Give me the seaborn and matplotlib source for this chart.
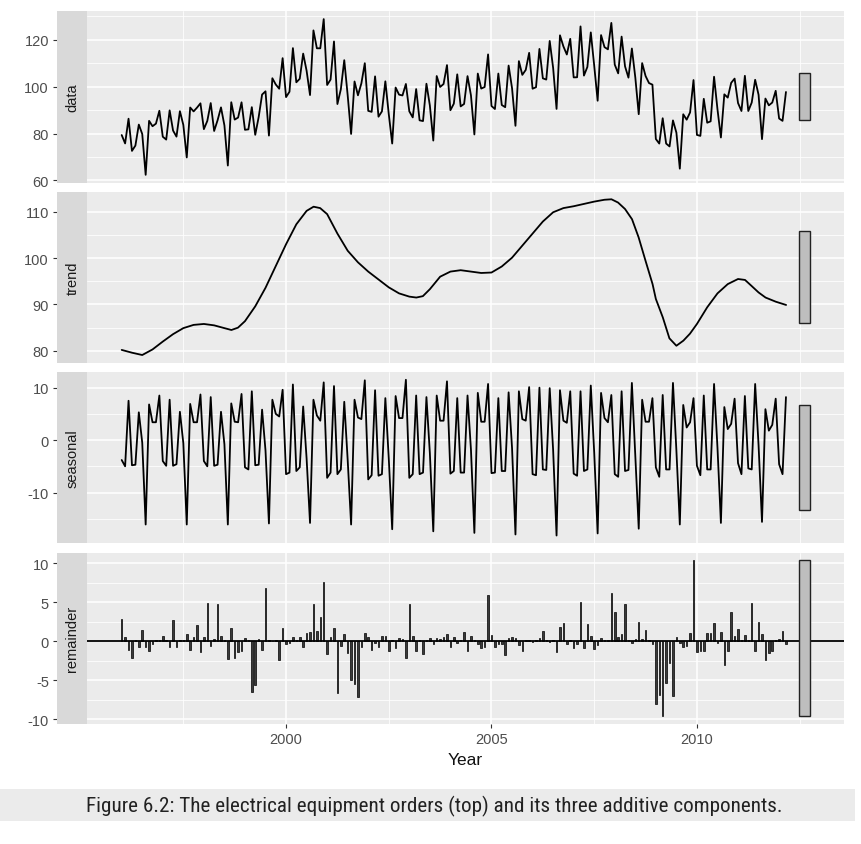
import numpy as np
import matplotlib
matplotlib.use("Agg")
import matplotlib.pyplot as plt
from matplotlib.patches import Rectangle
from matplotlib import font_manager
import seaborn as sns

# ---------------- data ----------------
start_year = 1996  # monthly series, Jan 1996 .. Mar 2012

data_values = [
    79.35, 75.78, 86.32, 72.60, 74.86, 83.81, 79.80, 62.41, 85.41, 83.11, 84.21, 89.70,
    78.64, 77.42, 89.86, 81.27, 78.68, 89.51, 83.67, 69.80, 91.09, 89.43, 91.04, 92.87,
    81.87, 85.36, 92.98, 81.09, 85.64, 91.14, 83.46, 66.37, 93.34, 85.93, 86.81, 93.30,
    81.59, 81.77, 91.24, 79.45, 86.99, 96.60, 97.99, 79.13, 103.56, 100.89, 99.09, 112.12,
    95.52, 97.80, 116.40, 101.83, 103.32, 114.05, 106.77, 96.38, 123.95, 116.31, 116.31, 128.76,
    100.69, 102.99, 119.21, 92.56, 98.86, 111.26, 96.25, 79.81, 102.18, 96.28, 101.38, 109.97,
    89.66, 89.23, 104.36, 87.17, 89.43, 102.25, 88.26, 75.73, 99.60, 96.57, 96.22, 101.12,
    89.45, 86.87, 98.94, 85.62, 85.31, 101.22, 91.93, 77.01, 104.50, 99.83, 101.10, 109.16,
    89.93, 92.73, 105.22, 91.56, 92.60, 104.46, 96.28, 79.61, 105.55, 99.15, 99.81, 113.72,
    91.73, 90.45, 105.56, 92.15, 91.23, 108.95, 99.33, 83.30, 110.85, 104.99, 107.10, 114.38,
    99.09, 99.73, 116.05, 103.51, 102.99, 119.45, 107.98, 90.50, 121.85, 117.12, 113.66, 120.35,
    103.92, 103.97, 125.63, 104.69, 108.36, 123.09, 108.88, 93.98, 121.94, 116.81, 115.87, 127.14,
    109.35, 105.64, 121.30, 108.62, 103.81, 116.23, 103.90, 88.23, 110.0, 104.5, 101.5, 100.82,
    77.66, 75.72, 86.52, 75.73, 74.50, 85.59, 80.37, 65.02, 88.2, 85.9, 89.0, 102.8,
    79.4, 79.0, 94.8, 84.6, 85.2, 104.2, 90.3, 78.3, 96.7, 95.3, 101.6, 103.4,
    93.0, 89.6, 104.6, 89.6, 93.2, 102.9, 96.5, 77.6, 94.9, 92.0, 93.2, 98.2,
    86.4, 85.4, 97.7,
]

trend_time = [
    1996.00, 1996.25, 1996.50, 1996.75, 1997.00, 1997.25, 1997.50, 1997.75,
    1998.00, 1998.25, 1998.50, 1998.67, 1998.83, 1999.00, 1999.25, 1999.50,
    1999.75, 2000.00, 2000.25, 2000.50, 2000.67, 2000.83, 2001.00, 2001.25,
    2001.50, 2001.75, 2002.00, 2002.25, 2002.50, 2002.75, 2003.00, 2003.17,
    2003.33, 2003.50, 2003.75, 2004.00, 2004.25, 2004.50, 2004.75, 2005.00,
    2005.25, 2005.50, 2005.75, 2006.00, 2006.25, 2006.50, 2006.75, 2007.00,
    2007.25, 2007.50, 2007.75, 2007.92, 2008.08, 2008.25, 2008.42, 2008.58,
    2008.75, 2008.92, 2009.00, 2009.17, 2009.33, 2009.50, 2009.67, 2009.83,
    2010.00, 2010.25, 2010.50, 2010.75, 2011.00, 2011.17, 2011.33, 2011.50,
    2011.67, 2011.92, 2012.17,
]
trend_values = [
    80.2, 79.6, 79.1, 80.3, 82.0, 83.6, 84.9, 85.6,
    85.8, 85.5, 84.9, 84.5, 85.0, 86.4, 89.6, 93.6,
    98.3, 103.0, 107.3, 110.2, 111.1, 110.8, 109.5, 105.3,
    101.6, 99.1, 97.1, 95.4, 93.7, 92.4, 91.7, 91.5,
    91.8, 93.3, 96.0, 97.1, 97.4, 97.1, 96.8, 96.9,
    98.2, 100.1, 102.7, 105.3, 107.9, 109.9, 110.8, 111.2,
    111.7, 112.2, 112.6, 112.7, 112.0, 110.6, 108.4, 104.5,
    99.4, 94.4, 91.2, 87.2, 82.7, 81.1, 82.2, 83.7,
    85.8, 89.4, 92.4, 94.4, 95.5, 95.3, 94.0, 92.6,
    91.5, 90.6, 89.9,
]

seasonal_values = [
    -3.8, -5.0, 7.5, -4.8, -4.7, 5.3, -0.5, -16.1, 6.8, 3.4, 3.4, 8.5,
    -4.0, -4.9, 7.7, -4.9, -4.6, 5.4, -0.6, -16.1, 6.9, 3.4, 3.4, 8.7,
    -4.0, -5.0, 8.2, -4.9, -4.7, 5.4, -0.8, -16.1, 7.0, 3.5, 3.4, 8.8,
    -5.2, -5.6, 9.3, -4.8, -4.7, 5.8, -2.0, -15.9, 7.7, 5.0, 4.5, 9.6,
    -6.5, -6.2, 10.6, -5.9, -5.2, 6.4, -3.5, -15.8, 7.7, 4.7, 3.7, 11.0,
    -7.2, -6.2, 10.3, -6.5, -5.6, 7.3, -3.8, -16.1, 7.7, 4.3, 4.0, 11.4,
    -7.5, -6.7, 9.5, -6.8, -6.5, 8.0, -3.5, -17.0, 8.4, 4.2, 4.2, 11.5,
    -7.2, -6.5, 8.5, -6.5, -6.2, 8.2, -2.5, -17.4, 8.5, 3.7, 3.7, 11.2,
    -6.4, -5.9, 8.0, -6.2, -6.2, 8.5, -1.8, -17.7, 9.0, 3.5, 3.5, 10.7,
    -6.3, -6.2, 8.0, -5.9, -5.9, 9.1, -1.5, -18.0, 9.3, 4.0, 3.7, 10.1,
    -6.5, -6.7, 10.0, -5.6, -5.7, 9.9, -1.9, -18.2, 9.5, 3.7, 3.3, 9.3,
    -6.4, -6.8, 9.3, -5.9, -5.6, 10.4, -2.4, -17.8, 9.0, 4.2, 3.4, 8.6,
    -6.5, -7.0, 9.3, -5.9, -5.7, 10.9, -2.8, -16.9, 7.7, 3.5, 3.5, 8.0,
    -5.2, -7.0, 8.6, -5.6, -5.6, 10.9, -2.0, -16.1, 6.7, 2.4, 3.4, 8.0,
    -4.9, -6.7, 8.5, -5.6, -5.6, 10.7, -1.5, -15.8, 6.3, 2.1, 3.1, 7.9,
    -4.4, -6.5, 8.4, -5.4, -5.6, 10.7, -1.0, -15.6, 5.9, 1.8, 2.9, 7.9,
    -4.6, -6.5, 8.2,
]

remainder_values = [
    2.8, 0.6, -1.1, -2.2, 0.1, -0.7, 1.4, -0.8, -1.2, -0.4, 0.1, 0.2,
    0.7, 0.1, -0.7, 2.7, -0.7, 0.1, 0.1, 0.9, -1.1, 0.6, 2.1, -1.4,
    0.5, 4.9, -0.6, 0.3, 4.8, 0.7, 0.1, -2.3, 1.7, -2.2, -1.4, -1.2,
    0.4, 0.1, -6.5, -5.6, 0.3, -1.1, 6.9, 0.2, 0.0, 0.1, -2.4, 1.7,
    -0.3, -0.2, 0.5, 0.1, 0.5, -0.7, 1.1, 1.2, 4.8, 1.3, 3.1, 7.6,
    -1.6, 0.5, 1.7, -6.6, -0.6, 0.9, -1.5, -5.0, -5.5, -7.2, -0.7, 1.1,
    0.5, -1.1, -0.2, -0.8, 0.7, 0.7, -1.3, 0.1, -0.9, 0.4, 0.3, -2.1,
    4.8, 0.7, -1.2, 0.1, -1.6, 0.1, 0.4, -0.3, 0.4, 0.3, 0.5, 0.9,
    -0.8, 0.6, -0.2, 0.2, 1.2, -1.3, 0.7, 0.2, -0.3, -0.9, -0.7, 6.0,
    0.8, -0.7, -0.4, -0.3, -1.7, 0.4, 0.5, 0.4, -0.5, -1.2, 0.1, 0.1,
    -0.1, 0.1, 0.4, 1.3, 0.1, -0.1, 0.1, -1.4, 1.8, 2.4, -0.3, 0.1,
    -0.9, -0.3, 5.0, -0.9, 2.2, 0.7, -1.0, -0.5, 0.4, 0.1, 0.1, 6.2,
    3.7, 0.6, 0.9, 4.8, 0.1, -0.2, 0.3, 2.5, 0.3, 1.5, 0.1, -0.4,
    -8.0, -6.9, -9.6, -5.4, -2.8, -7.0, 0.6, -0.2, -0.7, -0.6, 1.1, 10.4,
    -1.4, -1.2, -1.3, 1.1, 1.0, 2.3, -0.2, 1.2, -3.0, -1.3, 3.7, 0.7,
    1.6, 0.2, 0.8, 0.1, 4.9, -1.3, 2.5, 0.9, -2.4, -1.5, -1.2, 0.1,
    0.3, 1.3, -0.3,
]

panel_names = ["data", "trend", "seasonal", "remainder"]
y_major = [[60, 80, 100, 120], [80, 90, 100, 110], [-10, 0, 10], [-10, -5, 0, 5, 10]]
y_minor = [[70, 90, 110, 130], [85, 95, 105], [-15, -5, 5], [-7.5, -2.5, 2.5, 7.5]]
x_major = [2000, 2005, 2010]
x_minor = [1997.5, 2002.5, 2007.5, 2012.5]
x_label = "Year"
caption = "Figure 6.2: The electrical equipment orders (top) and its three additive components."

# ---------------- styling ----------------
sns.set_theme(style="darkgrid", rc={
    "axes.facecolor": "#EBEBEB",
    "grid.color": "white",
    "figure.facecolor": "white",
})
plt.rcParams["font.family"] = ["Liberation Sans", "DejaVu Sans"]

# pick a condensed face for the caption if one is installed
installed = {f.name for f in font_manager.fontManager.ttflist}
cond_candidates = ["Liberation Sans Narrow", "DejaVu Sans Condensed", "Roboto Condensed",
                   "Open Sans Condensed"]
cap_family = next((c for c in cond_candidates if c in installed), None)
cond_dejavu = any(("DejaVuSansCondensed" in f.fname) for f in font_manager.fontManager.ttflist)

W, H, DPI = 862, 845, 100
fig = plt.figure(figsize=(W / DPI, H / DPI), dpi=DPI)

panel_left, panel_right = 87.3, 844.0
strip_left = 57.5
panel_tops = [12.3, 192.5, 373.0, 553.5]
panel_h = 171.3

n = len(data_values)
t = start_year + np.arange(n) / 12.0
series = [np.array(data_values), np.array(trend_values),
          np.array(seasonal_values), np.array(remainder_values)]

# range bars (same data-unit length on every panel)
t_min, t_max = t.min(), t.max()
span = t_max - t_min
bar_w = span / 64.0
bar_mid = t_max + span / 36.0
bar_h = min(s.max() - s.min() for s in series)
x_right = bar_mid + bar_w / 2
xr = x_right - t_min
xlim = (t_min - 0.05 * xr, x_right + 0.05 * xr)

offset_pt = (panel_left - strip_left) * 72.0 / DPI

for k, name in enumerate(panel_names):
    top = panel_tops[k]
    ax = fig.add_axes([panel_left / W, 1 - (top + panel_h) / H,
                       (panel_right - panel_left) / W, panel_h / H])
    s = series[k]
    if name == "trend":
        sns.lineplot(x=trend_time, y=trend_values, ax=ax, color="black",
                     linewidth=1.3, estimator=None, sort=False)
    elif name == "remainder":
        sns.barplot(x=t, y=s, ax=ax, native_scale=True, orient="x",
                    color="#3A3A3A", saturation=1, edgecolor="black",
                    linewidth=0.5, width=0.45, errorbar=None)
        ax.axhline(0, color="black", linewidth=1.3, zorder=2.5)
    else:
        sns.lineplot(x=t, y=s, ax=ax, color="black", linewidth=1.3,
                     estimator=None, sort=False)

    lo, hi = s.min(), s.max()
    ymid = (lo + hi) / 2
    ax.add_patch(Rectangle((bar_mid - bar_w / 2, ymid - bar_h / 2), bar_w, bar_h,
                           facecolor="#BEBEBE", edgecolor="#222222",
                           linewidth=1.0, zorder=4))
    ylo, yhi = min(lo, ymid - bar_h / 2), max(hi, ymid + bar_h / 2)
    yr = yhi - ylo
    ax.set_ylim(ylo - 0.05 * yr, yhi + 0.05 * yr)
    ax.set_xlim(*xlim)

    ax.set_yticks(y_major[k])
    ax.set_yticklabels([f"{v:g}" for v in y_major[k]])
    ax.set_yticks(y_minor[k], minor=True)
    ax.set_xticks(x_major)
    ax.set_xticks(x_minor, minor=True)
    ax.grid(which="major", color="white", linewidth=1.1)
    ax.grid(which="minor", color="white", linewidth=0.55)
    ax.set_axisbelow(True)
    for sp in ax.spines.values():
        sp.set_visible(False)
    ax.spines["left"].set_position(("outward", offset_pt))
    ax.tick_params(axis="y", which="major", left=True, length=3.2, width=0.8,
                   color="#333333", pad=3.0, labelsize=10.5, labelcolor="#4D4D4D")
    ax.tick_params(which="minor", length=0)
    ax.set_ylabel("")
    if k < 3:
        ax.tick_params(axis="x", which="both", bottom=False, labelbottom=False)
        ax.set_xlabel("")
    else:
        ax.set_xticklabels([str(v) for v in x_major])
        ax.tick_params(axis="x", which="major", bottom=True, length=3.2, width=0.8,
                       color="#333333", pad=3.0, labelsize=10.5, labelcolor="#4D4D4D")
        ax.set_xlabel(x_label, fontsize=12.5, color="#111111", labelpad=4)

    # facet strip on the left
    sax = fig.add_axes([strip_left / W, 1 - (top + panel_h) / H,
                        (panel_left - strip_left) / W, panel_h / H])
    sax.set_facecolor("#D9D9D9")
    sax.set_xticks([])
    sax.set_yticks([])
    sax.grid(False)
    for sp in sax.spines.values():
        sp.set_visible(False)
    sax.text(0.5, 0.5, name, rotation=90, ha="center", va="center",
             color="#1A1A1A", fontsize=10.5, transform=sax.transAxes)

# caption band
fig.add_artist(Rectangle((0, 1 - 822 / H), 855 / W, 32 / H, transform=fig.transFigure,
                         facecolor="#EBEBEB", edgecolor="none"))
if cap_family is not None:
    cap_kw = dict(family=[cap_family, "DejaVu Sans"], fontsize=13.5)
elif cond_dejavu:
    cap_kw = dict(family=["DejaVu Sans"], fontstretch="condensed", fontsize=12.5)
else:
    cap_kw = dict(family=["Liberation Sans", "DejaVu Sans"], fontsize=13.2)
cap = fig.text(434.5 / W, 1 - 806 / H, caption, ha="center", va="center",
               color="#222222", **cap_kw)
# scale the caption so that it spans the same width as in the reference (~695 px)
renderer = fig.canvas.get_renderer()
w_now = cap.get_window_extent(renderer=renderer).width
if w_now > 0:
    cap.set_fontsize(cap.get_fontsize() * 695.0 / w_now)

fig.savefig("out.png", dpi=DPI)
